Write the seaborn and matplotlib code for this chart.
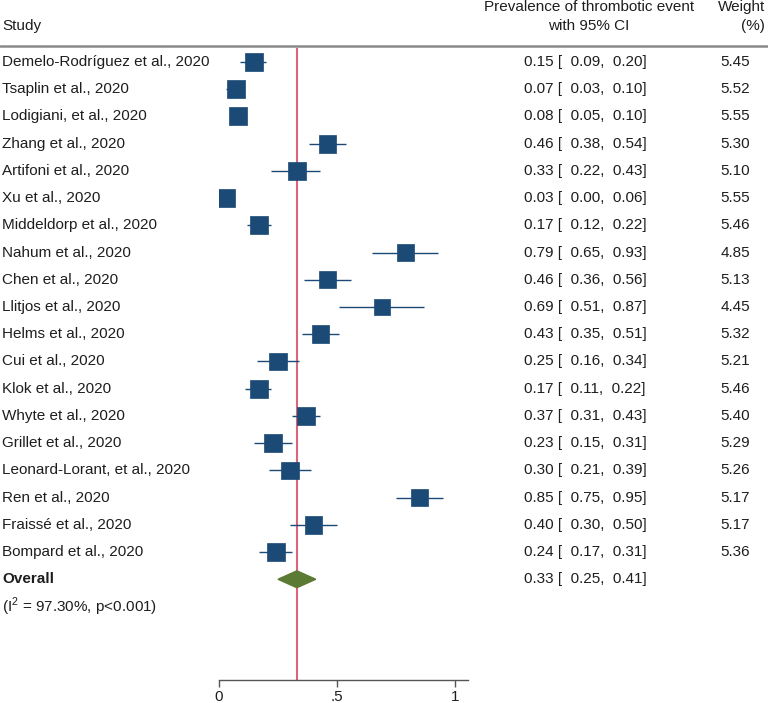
"""Forest plot of thrombotic event prevalence in COVID-19 studies."""

import matplotlib

matplotlib.use("Agg")
import matplotlib.pyplot as plt
import matplotlib.transforms as mtransforms
import numpy as np
import pandas as pd
import seaborn as sns
from matplotlib.lines import Line2D
from matplotlib.patches import Polygon

studies = [
    "Demelo-Rodríguez et al., 2020",
    "Tsaplin et al., 2020",
    "Lodigiani, et al., 2020",
    "Zhang et al., 2020",
    "Artifoni et al., 2020",
    "Xu et al., 2020",
    "Middeldorp et al., 2020",
    "Nahum et al., 2020",
    "Chen et al., 2020",
    "Llitjos et al., 2020",
    "Helms et al., 2020",
    "Cui et al., 2020",
    "Klok et al., 2020",
    "Whyte et al., 2020",
    "Grillet et al., 2020",
    "Leonard-Lorant, et al., 2020",
    "Ren et al., 2020",
    "Fraissé et al., 2020",
    "Bompard et al., 2020",
]
estimates = [0.15, 0.07, 0.08, 0.46, 0.33, 0.03, 0.17, 0.79, 0.46, 0.69,
             0.43, 0.25, 0.17, 0.37, 0.23, 0.30, 0.85, 0.40, 0.24]
ci_low = [0.09, 0.03, 0.05, 0.38, 0.22, 0.00, 0.12, 0.65, 0.36, 0.51,
          0.35, 0.16, 0.11, 0.31, 0.15, 0.21, 0.75, 0.30, 0.17]
ci_high = [0.20, 0.10, 0.10, 0.54, 0.43, 0.06, 0.22, 0.93, 0.56, 0.87,
           0.51, 0.34, 0.22, 0.43, 0.31, 0.39, 0.95, 0.50, 0.31]
weights = [5.45, 5.52, 5.55, 5.30, 5.10, 5.55, 5.46, 4.85, 5.13, 4.45,
           5.32, 5.21, 5.46, 5.40, 5.29, 5.26, 5.17, 5.17, 5.36]

overall_est, overall_low, overall_high = 0.33, 0.25, 0.41
heterogeneity = "(I$^2$ = 97.30%, p<0.001)"
x_ticks = [0, 0.5, 1]
x_tick_labels = ["0", ".5", "1"]

BLUE = "#1b4a76"
GREEN = "#5b7a34"
RED = "#d9667a"
TEXT = "#1e1e1e"
W, H = 768, 703

df = pd.DataFrame({
    "study": studies,
    "est": estimates,
    "lo": ci_low,
    "hi": ci_high,
    "weight": weights,
})
df["row"] = np.arange(len(df))
overall_row = len(df)

sns.set_theme(style="white")
plt.rcParams["font.family"] = ["Liberation Sans", "DejaVu Sans"]
plt.rcParams["mathtext.fontset"] = "custom"
plt.rcParams["mathtext.rm"] = "Liberation Sans"

fig = plt.figure(figsize=(W / 100, H / 100), dpi=100)
ax = fig.add_axes([219 / W, 23 / H, 249 / W, (680 - 48) / H])

# confidence intervals and weighted squares
ax.hlines(df["row"], df["lo"], df["hi"], color=BLUE, lw=1.0, zorder=2)
scale = 12.9 ** 2 / 5.45
sns.scatterplot(
    data=df, x="est", y="row", size="weight", marker="s",
    sizes=(scale * min(weights), scale * max(weights)),
    size_norm=(min(weights), max(weights)),
    color=BLUE, edgecolor=BLUE, linewidth=0.5, legend=False, ax=ax, zorder=3,
)

ax.axvline(overall_est, color=RED, lw=1.5, zorder=1)
diamond = Polygon(
    [(overall_low, overall_row), (overall_est, overall_row - 0.31),
     (overall_high, overall_row), (overall_est, overall_row + 0.31)],
    closed=True, facecolor=GREEN, edgecolor=GREEN, zorder=4,
)
ax.add_patch(diamond)

ax.set_xlim(0, 1.055)
ax.set_ylim(22.70, -0.514)
ax.set_xticks(x_ticks)
ax.set_xticklabels(x_tick_labels, fontsize=11)
ax.set_yticks([])
ax.set_xlabel("")
ax.set_ylabel("")
for side in ["top", "right", "left"]:
    ax.spines[side].set_visible(False)
ax.spines["bottom"].set_color("#555555")
ax.spines["bottom"].set_linewidth(1.0)
ax.tick_params(axis="x", direction="out", length=5, width=1, color="#555555",
               bottom=True, pad=2, labelcolor=TEXT)

# text columns, x in figure fraction, y in data rows
trans = mtransforms.blended_transform_factory(fig.transFigure, ax.transData)
fs = 11
for _, r in df.iterrows():
    ax.text(2 / W, r["row"], r["study"], transform=trans, ha="left", va="center",
            fontsize=fs, color=TEXT)
    ax.text(524 / W, r["row"], f"{r['est']:.2f} [ {r['lo']:5.2f}, {r['hi']:5.2f}]",
            transform=trans, ha="left", va="center", fontsize=fs, color=TEXT)
    ax.text(750 / W, r["row"], f"{r['weight']:.2f}", transform=trans, ha="right",
            va="center", fontsize=fs, color=TEXT)

ax.text(2 / W, overall_row, "Overall", transform=trans, ha="left", va="center",
        fontsize=fs, fontweight="bold", color=TEXT)
ax.text(524 / W, overall_row,
        f"{overall_est:.2f} [ {overall_low:5.2f}, {overall_high:5.2f}]",
        transform=trans, ha="left", va="center", fontsize=fs, color=TEXT)
ax.text(2 / W, overall_row + 1, heterogeneity, transform=trans, ha="left",
        va="center", fontsize=fs, color=TEXT)

# header
fig.text(2 / W, 1 - 26 / H, "Study", ha="left", va="center", fontsize=fs, color=TEXT)
fig.text(589 / W, 1 - 7 / H, "Prevalence of thrombotic event", ha="center",
         va="center", fontsize=fs, color=TEXT)
fig.text(589 / W, 1 - 26 / H, "with 95% CI", ha="center", va="center",
         fontsize=fs, color=TEXT)
fig.text(765 / W, 1 - 7 / H, "Weight", ha="right", va="center", fontsize=fs, color=TEXT)
fig.text(765 / W, 1 - 26 / H, "(%)", ha="right", va="center", fontsize=fs, color=TEXT)
fig.add_artist(Line2D([0, 1], [1 - 46 / H, 1 - 46 / H], transform=fig.transFigure,
                      color="#8a8a8a", lw=1.8))

fig.savefig("out.png", dpi=100)
